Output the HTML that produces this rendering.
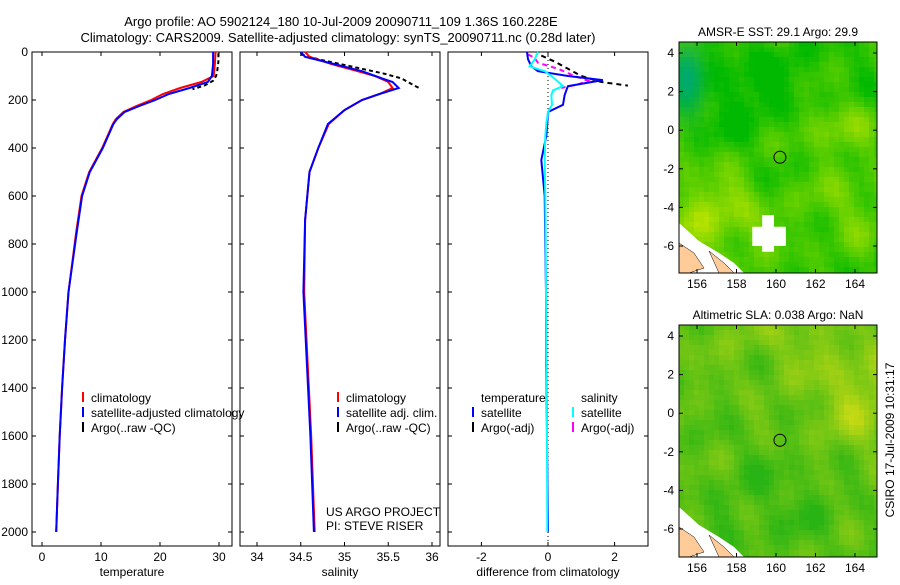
<!DOCTYPE html>
<html><head><meta charset="utf-8"><style>
body{margin:0;background:#fff;width:900px;height:580px;overflow:hidden}
svg{font-family:"Liberation Sans",sans-serif;font-size:12px}
</style></head><body>
<svg id="s" width="900" height="580" xmlns="http://www.w3.org/2000/svg">
<text x="341" y="26" text-anchor="middle" font-size="13">Argo profile: AO 5902124_180 10-Jul-2009 20090711_109 1.36S 160.228E</text>
<text x="338" y="42" text-anchor="middle" font-size="13">Climatology: CARS2009. Satellite-adjusted climatology: synTS_20090711.nc (0.28d later)</text>
<text transform="translate(894,440) rotate(-90)" text-anchor="middle">CSIRO 17-Jul-2009 10:31:17</text>
<g id="g"></g>
</svg>
<script>
// ---- data ----
const depthT=[0,50,100,125,150,175,200,225,250,280,300,400,500,600,750,1000,1200,1400,1600,1800,2000];
const tempClim=[29.4,29.3,29.1,27.0,23.4,20.5,18.5,16.0,13.8,12.5,12.0,10.2,8.0,6.7,5.8,4.5,3.9,3.4,3.0,2.7,2.4];
const tempSat=[29.0,29.0,28.8,28.1,25.0,21.5,19.2,16.5,14.0,12.7,12.1,10.3,8.1,6.8,5.9,4.5,3.9,3.4,3.0,2.7,2.4];
const argoTDepth=[5,20,40,60,80,100,120,140,155];
const argoT=[29.9,29.9,29.9,29.8,29.7,29.5,29.0,27.5,25.5];
const depthS=[0,20,50,80,100,125,150,175,200,242,300,400,500,700,1000,1300,1600,2000];
const salClim=[34.55,34.6,34.85,35.15,35.35,35.5,35.55,35.4,35.2,35.0,34.82,34.7,34.6,34.55,34.54,34.58,34.62,34.66];
const salSat=[34.5,34.55,34.88,35.2,35.35,35.55,35.62,35.4,35.2,35.0,34.81,34.7,34.6,34.55,34.53,34.57,34.61,34.65];
const argoSDepth=[10,30,50,70,90,110,130,150];
const argoS=[34.5,34.7,34.95,35.2,35.45,35.65,35.75,35.85];
const diffDepth=[0,30,60,80,100,117,142,160,180,220,250,300,350,450,600,800,1000,1300,1600,2000];
const diffTSat=[-0.63,-0.6,-0.5,-0.3,0.6,1.65,0.6,0.55,0.5,0.45,0.0,-0.02,-0.05,-0.2,-0.1,-0.08,-0.06,-0.05,-0.03,0.0];
const diffSSat=[-0.3,-0.4,-0.55,-0.1,0.1,0.25,0.45,0.15,0.1,0.12,0.0,-0.05,-0.08,-0.1,-0.08,-0.07,-0.06,-0.04,-0.03,-0.02];
const diffTArgoDepth=[15,40,70,100,125,140];
const diffTArgo=[-0.2,0.2,0.6,1.0,1.6,2.4];
const diffSArgoDepth=[10,25,45,70,100,120,135,150];
const diffSArgo=[-0.6,-0.4,-0.3,0.3,0.8,1.2,0.9,0.4];
const depthTicks=[0,200,400,600,800,1000,1200,1400,1600,1800,2000];
const tTicks=[0,10,20,30];
const sTicks=[34,34.5,35,35.5,36];
const dTicks=[-2,0,2];
const latTicks=[4,2,0,-2,-4,-6];
const lonTicks=[156,158,160,162,164];

const NS="http://www.w3.org/2000/svg";
const G=document.getElementById('g');
function mk(tag,at,parent){const e=document.createElementNS(NS,tag);for(const k in at)e.setAttribute(k,at[k]);(parent||G).appendChild(e);return e;}
const top0=52,bot=546;
const y=d=>52+d*0.24;
const xT=v=>42+v*5.9;
const xS=v=>257+(v-34)*87.5;
const xD=v=>548+v*33.3;
function line(xs,ds,fx,col,w,dash,name){
  const p=xs.map((v,i)=>fx(v).toFixed(1)+','+y(ds[i]).toFixed(1)).join(' ');
  const e=mk('polyline',{points:p,fill:'none',stroke:col,'stroke-width':w});
  if(dash)e.setAttribute('stroke-dasharray',dash);
  
  
}
function panel(x0,x1,ticks,fx,lab,xlabel,leftLabels,name){
  const b=mk('rect',{x:x0,y:top0,width:x1-x0,height:bot-top0,fill:'none',stroke:'#000'});
  
  
  depthTicks.forEach(d=>{
    mk('line',{x1:x0,x2:x0+4,y1:y(d),y2:y(d),stroke:'#000'});
    mk('line',{x1:x1,x2:x1-4,y1:y(d),y2:y(d),stroke:'#000'});
    if(leftLabels){const t=mk('text',{x:x0-4,y:y(d)+4,'text-anchor':'end'});t.textContent=d;
      
      }
  });
  ticks.forEach(v=>{const X=fx(v);
    mk('line',{x1:X,x2:X,y1:top0,y2:top0+4,stroke:'#000'});
    mk('line',{x1:X,x2:X,y1:bot,y2:bot-4,stroke:'#000'});
    const t=mk('text',{x:X,y:bot+15,'text-anchor':'middle'});t.textContent=v;
    
    
  });
  const t=mk('text',{x:(x0+x1)/2,y:bot+30,'text-anchor':'middle'});t.textContent=xlabel;
  
  
}
panel(32,232,tTicks,xT,true,'temperature',true,'temperature-panel');
panel(240,440,sTicks,xS,true,'salinity',false,'salinity-panel');
panel(448,648,dTicks,xD,true,'difference from climatology',false,'difference-panel');

line(argoT,argoTDepth,xT,'#000',2,'4,3','argo-temperature');
line(tempClim,depthT,xT,'#f00',2,null,'climatology-temperature');
line(tempSat,depthT,xT,'#00f',2,null,'satellite-temperature');
line(argoS,argoSDepth,xS,'#000',2,'4,3','argo-salinity');
line(salClim,depthS,xS,'#f00',2,null,'climatology-salinity');
line(salSat,depthS,xS,'#00f',2,null,'satellite-salinity');
mk('line',{x1:xD(0),x2:xD(0),y1:top0,y2:bot,stroke:'#000','stroke-dasharray':'1,3'});
line(diffTArgo,diffTArgoDepth,xD,'#000',2,'5,4','argo-temperature-diff');
line(diffSArgo,diffSArgoDepth,xD,'#f0f',2,'5,4','argo-salinity-diff');
line(diffTSat,diffDepth,xD,'#00f',2,null,'satellite-temperature-diff');
line(diffSSat,diffDepth,xD,'#0ff',2,null,'satellite-salinity-diff');

function legend(x,yy,items,name){
  items.forEach((it,i)=>{const Y=yy+i*15;
    if(it[1]){mk('line',{x1:x,x2:x,y1:Y-10,y2:Y,stroke:it[1],'stroke-width':2});}
    const t=mk('text',{x:x+8,y:Y});t.textContent=it[0];
    
    
  });
}
legend(83,402,[['climatology','#f00'],['satellite-adjusted climatology','#00f'],['Argo(..raw -QC)','#000']],'temperature-legend');
legend(338,402,[['climatology','#f00'],['satellite adj. clim.','#00f'],['Argo(..raw -QC)','#000']],'salinity-legend');
legend(473,402,[['temperature',null],['satellite','#00f'],['Argo(-adj)','#000']],'diff-temp-legend');
legend(573,402,[['salinity',null],['satellite','#0ff'],['Argo(-adj)','#f0f']],'diff-sal-legend');
let t1=mk('text',{x:326,y:516});t1.textContent='US ARGO PROJECT';
let t2=mk('text',{x:326,y:530});t2.textContent='PI: STEVE RISER';

// ---- maps ----
function noise(x,y,s){
  return Math.sin(x*0.07+s)*Math.cos(y*0.06+s*1.7)
   +0.7*Math.sin(x*0.13-y*0.05+s*3)
   +0.5*Math.cos(x*0.03+y*0.11+s*5)
   +0.35*Math.sin(x*0.37+y*0.29+s)*Math.cos(x*0.23-y*0.41);
}
const bump=(u,w,cu,cw,ru,rw)=>Math.exp(-(((u-cu)/ru)**2+((w-cw)/rw)**2));
function map(x0,x1,y0,y1,lat4y,latm6y,title,seed,name){
  const fx=l=>697+(l-156)*19.75;
  const fy=la=>lat4y+(4-la)*(latm6y-lat4y)/10;
  const clip='c'+seed;
  const cp=mk('clipPath',{id:clip});mk('rect',{x:x0,y:y0,width:x1-x0,height:y1-y0},cp);
  const g=mk('g',{'clip-path':'url(#'+clip+')'});
  
  
  const cw=5,ch=5;
  for(let yy=y0;yy<y1;yy+=ch)for(let xx=x0;xx<x1;xx+=cw){
    const u=(xx-x0)/(x1-x0), w=(yy-y0)/(y1-y0);
    let v=noise(xx,yy,seed)/2.5;
    let r,gg,b;
    if(seed===1){
      v=v*0.3+0.22;
      v+=0.45*bump(u,w,0.15,0.75,0.3,0.2);
      v+=0.35*bump(u,w,0.75,0.35,0.2,0.12);
      v+=0.25*bump(u,w,0.85,0.7,0.2,0.2);
      v-=0.25*bump(u,w,0.35,0.2,0.35,0.2);
      v=Math.max(0,Math.min(1,v));
      r=Math.round(v*220);gg=Math.round(185+v*50);b=0;
      const tl=bump(u,w,0.03,0.15,0.08,0.15);
      r=Math.round(r*(1-tl));b=Math.round(110*tl);gg=Math.round(gg*(1-tl)+170*tl);
    }else{
      v=v*0.3+0.28;
      v+=0.35*bump(u,w,0.9,0.3,0.25,0.25);
      v+=0.15*bump(u,w,0.5,0.05,0.3,0.15);
      v-=0.15*bump(u,w,0.5,0.75,0.4,0.25);
      v=Math.max(0,Math.min(1,v));
      r=Math.round(40+v*190);gg=Math.round(180+v*45);b=20;
    }
    mk('rect',{x:xx,y:yy,width:cw,height:ch,fill:`rgb(${r},${gg},${b})`},g);
  }
  mk('polygon',{points:`${x0},${y1-50} ${x0+20},${y1-32} ${x0+40},${y1-20} ${x0+55},${y1-10} ${x0+65},${y1} ${x0},${y1}`,fill:'#fff'},g);
  mk('polygon',{points:`${x0},${y1-30} ${x0+15},${y1-20} ${x0+25},${y1-5} ${x0+10},${y1} ${x0},${y1}`,fill:'#fc9',stroke:'#000','stroke-width':0.5},g);
  mk('polygon',{points:`${x0+30},${y1-22} ${x0+45},${y1-10} ${x0+55},${y1} ${x0+40},${y1}`,fill:'#fc9',stroke:'#000','stroke-width':0.5},g);
  if(seed===1)mk('polygon',{points:`${fx(159.3)},${fy(-4.4)} ${fx(159.9)},${fy(-4.4)} ${fx(159.9)},${fy(-5)} ${fx(160.5)},${fy(-5)} ${fx(160.5)},${fy(-6)} ${fx(159.9)},${fy(-6)} ${fx(159.9)},${fy(-6.3)} ${fx(159.3)},${fy(-6.3)} ${fx(159.3)},${fy(-6)} ${fx(158.8)},${fy(-6)} ${fx(158.8)},${fy(-5)} ${fx(159.3)},${fy(-5)}`,fill:'#fff'},g);
  const c=mk('circle',{cx:fx(160.2),cy:fy(-1.4),r:6,fill:'none',stroke:'#000'});
  
  
  const fr=mk('rect',{x:x0,y:y0,width:x1-x0,height:y1-y0,fill:'none',stroke:'#000'});
  
  
  latTicks.forEach(la=>{const Y=fy(la);
    mk('line',{x1:x0,x2:x0+4,y1:Y,y2:Y,stroke:'#000'});mk('line',{x1:x1,x2:x1-4,y1:Y,y2:Y,stroke:'#000'});
    const t=mk('text',{x:x0-5,y:Y+4,'text-anchor':'end'});t.textContent=la;
    
    });
  lonTicks.forEach(lo=>{const X=fx(lo);
    mk('line',{x1:X,x2:X,y1:y0,y2:y0+4,stroke:'#000'});mk('line',{x1:X,x2:X,y1:y1,y2:y1-4,stroke:'#000'});
    const t=mk('text',{x:X,y:y1+15,'text-anchor':'middle'});t.textContent=lo;
    
    });
  const t=mk('text',{x:(x0+x1)/2,y:y0-6,'text-anchor':'middle'});t.textContent=title;
  
  
}
map(679,877,42,273,53,246,'AMSR-E SST: 29.1 Argo: 29.9',1,'sst-map');
map(679,877,325,557,336,529,'Altimetric SLA: 0.038 Argo: NaN',2,'sla-map');
</script>
</body></html>
